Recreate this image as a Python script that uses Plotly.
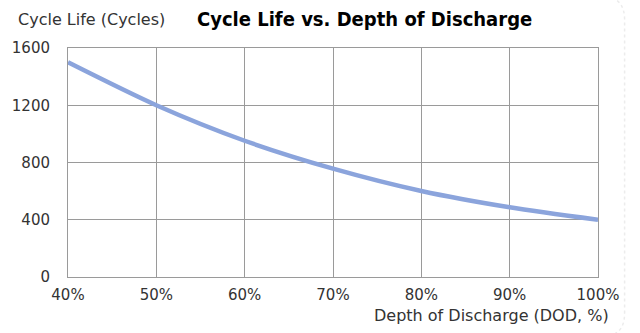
import plotly.graph_objects as go

# Depth of discharge (%) and corresponding cycle life
dod = [40, 50, 60, 70, 80, 90, 100]
cycles = [1500, 1200, 952, 757, 601, 487, 400]
x_ticks = [40, 50, 60, 70, 80, 90, 100]
x_tick_labels = ["40%", "50%", "60%", "70%", "80%", "90%", "100%"]
y_ticks = [0, 400, 800, 1200, 1600]

W, H = 640, 333
ML, MR, MT, MB = 60, 42, 48, 56
PW, PH = W - ML - MR, H - MT - MB

FONT = "DejaVu Sans"
GRID = "#9a9a9a"
TEXT = "#333333"


def px(x):
    """Horizontal pixel -> paper coordinate."""
    return (x - ML) / PW


def py(y):
    """Vertical pixel (from top) -> paper coordinate."""
    return (H - MB - y) / PH


fig = go.Figure()
fig.add_trace(go.Scatter(
    x=dod, y=cycles, mode="lines",
    line=dict(color="#8ba4dc", width=4.5, shape="spline", smoothing=0.8),
    hoverinfo="x+y",
))

# Faint card edge on the right-hand side
card = (f"M {px(612)},{py(-2)} Q {px(625)},{py(2)} {px(625)},{py(20)} "
        f"L {px(625)},{py(313)} Q {px(625)},{py(331)} {px(612)},{py(335)}")

fig.update_layout(
    width=W, height=H,
    margin=dict(l=ML, r=MR, t=MT, b=MB),
    paper_bgcolor="white", plot_bgcolor="white",
    showlegend=False,
    font=dict(family=FONT, color=TEXT, size=15),
    xaxis=dict(
        range=[40, 100], tickvals=x_ticks, ticktext=x_tick_labels,
        showgrid=True, gridcolor=GRID, gridwidth=1,
        showline=True, linecolor=GRID, mirror=True,
        zeroline=False, ticks="", ticklabelstandoff=4,
        tickfont=dict(size=15, color=TEXT),
    ),
    yaxis=dict(
        range=[0, 1600], tickvals=y_ticks,
        showgrid=True, gridcolor=GRID, gridwidth=1,
        showline=True, linecolor=GRID, mirror=True,
        zeroline=False, ticks="", ticklabelstandoff=14,
        tickfont=dict(size=15, color=TEXT),
    ),
    shapes=[dict(type="path", path=card, xref="paper", yref="paper",
                 line=dict(color="#ececec", width=1.5, dash="dot"))],
    annotations=[
        dict(text="<b>Cycle Life vs. Depth of Discharge</b>",
             x=px(361), y=py(19), xref="paper", yref="paper",
             xanchor="center", yanchor="middle", showarrow=False,
             font=dict(size=20, color="black", family="DejaVu Sans Condensed")),
        dict(text="Cycle Life (Cycles)", x=px(7), y=py(19),
             xref="paper", yref="paper", xanchor="left", yanchor="middle",
             showarrow=False, font=dict(size=16, color=TEXT)),
        dict(text="Depth of Discharge (DOD, %)", x=px(611), y=py(315),
             xref="paper", yref="paper", xanchor="right", yanchor="middle",
             showarrow=False, font=dict(size=16, color=TEXT)),
    ],
)

fig.write_html("out.html")
